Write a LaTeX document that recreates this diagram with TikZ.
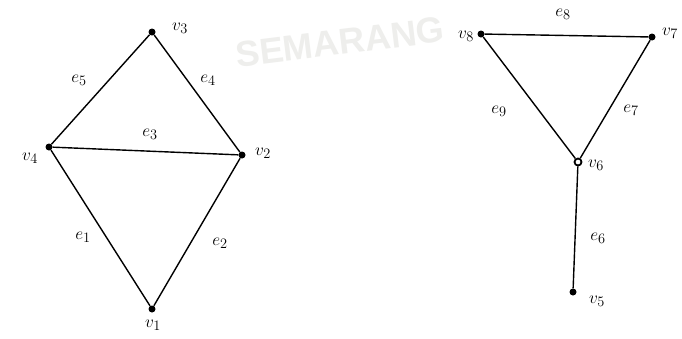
\documentclass[tikz,border=0pt]{standalone}
\usepackage{fontspec}
\newfontfamily\wm{Liberation Sans}
\definecolor{wmcol}{RGB}{238,238,236}
\begin{document}
\begin{tikzpicture}[x=1pt,y=-1pt,
  vtx/.style={circle,fill=black,inner sep=0pt,minimum size=7pt},
  ovtx/.style={circle,draw=black,fill=white,line width=1.8pt,inner sep=0pt,minimum size=7pt},
  edge/.style={line width=1.4pt},
  lab/.style={font=\fontsize{19}{19}\selectfont,inner sep=0pt}]
\useasboundingbox (0,0) rectangle (682,338);
\fill[white] (0,0) rectangle (682,338);
% faint watermark
\node[text=wmcol,font=\wm\bfseries\fontsize{36}{36}\selectfont,rotate=7] (wmk) at (340,42) {SEMARANG};
% vertices
\node[vtx] (v3) at (152,32) {};
\node[vtx] (v4) at (49,147) {};
\node[vtx] (v2) at (242,155) {};
\node[vtx] (v1) at (152,309) {};
\node[vtx] (v8) at (481,34) {};
\node[vtx] (v7) at (652,37) {};
\node[ovtx] (v6) at (578,162) {};
\node[vtx] (v5) at (573,292) {};
% edges
\draw[edge] (v3) -- (v4);
\draw[edge] (v3) -- (v2);
\draw[edge] (v4) -- (v2);
\draw[edge] (v4) -- (v1);
\draw[edge] (v2) -- (v1);
\draw[edge] (v8) -- (v7);
\draw[edge] (v8) -- (v6);
\draw[edge] (v7) -- (v6);
\draw[edge] (v6) -- (v5);
% vertex labels
\node[lab] (l3) at (180,28) {$v_3$};
\node[lab] (l4) at (30,158) {$v_4$};
\node[lab] (l2) at (263,153) {$v_2$};
\node[lab] (l1) at (153,325) {$v_1$};
\node[lab] (l8) at (466,36) {$v_8$};
\node[lab] (l7) at (670,33) {$v_7$};
\node[lab] (l6) at (596,165) {$v_6$};
\node[lab] (l5) at (597,301) {$v_5$};
% edge labels
\node[lab] (e5) at (79,80) {$e_5$};
\node[lab] (e4) at (208,80) {$e_4$};
\node[lab] (e3) at (150,134) {$e_3$};
\node[lab] (e1) at (83,237) {$e_1$};
\node[lab] (e2) at (220,243) {$e_2$};
\node[lab] (e8) at (563,14) {$e_8$};
\node[lab] (e9) at (499,111) {$e_9$};
\node[lab] (e7) at (631,110) {$e_7$};
\node[lab] (e6) at (598,238) {$e_6$};
\end{tikzpicture}
\end{document}
